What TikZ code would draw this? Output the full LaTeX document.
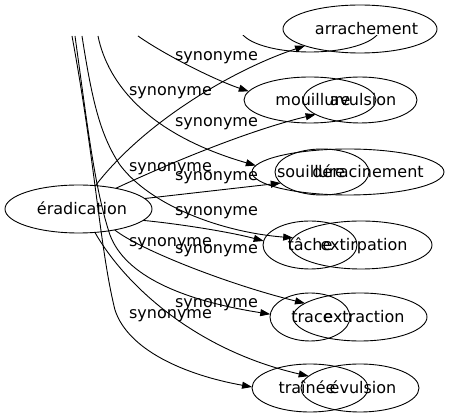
\documentclass[tikz,border=0pt]{standalone}
\usepackage{fontspec}
\setmainfont{DejaVu Sans}
\usetikzlibrary{arrows.meta,shapes.geometric}
\begin{document}
\begin{tikzpicture}[x=1pt,y=-1pt,
  every node/.style={font=\fontsize{16}{19}\selectfont},
  wordnode/.style={draw, ellipse, inner sep=0pt, outer sep=0pt, line width=0.9pt},
  wordtext/.style={anchor=base, inner sep=0pt},
  synlabel/.style={anchor=base, inner sep=0pt},
  synedge/.style={draw, line width=0.9pt, -{Triangle[length=10pt,width=7pt]}}
]
\useasboundingbox (0,0) rectangle (451,419);

% ellipses
\node[wordnode, minimum width=147pt, minimum height=48pt] (eradication) at (78.5,209) {};
\node[wordnode, minimum width=154pt, minimum height=48pt] (arrachement) at (360,29) {};
\node[wordnode, minimum width=132pt, minimum height=46pt] (mouillure) at (310,100) {};
\node[wordnode, minimum width=114pt, minimum height=46pt] (avulsion) at (360,100) {};
\node[wordnode, minimum width=94pt, minimum height=46pt] (souillure) at (322,172) {};
\node[wordnode, minimum width=192pt, minimum height=46pt] (deracinement) at (348,172) {};
\node[wordnode, minimum width=94pt, minimum height=48pt] (tache) at (310,245) {};
\node[wordnode, minimum width=142pt, minimum height=48pt] (extirpation) at (361,245) {};
\node[wordnode, minimum width=80pt, minimum height=48pt] (trace) at (310,317) {};
\node[wordnode, minimum width=134pt, minimum height=48pt] (extraction) at (360,317) {};
\node[wordnode, minimum width=116pt, minimum height=48pt] (trainee) at (310,388) {};
\node[wordnode, minimum width=118pt, minimum height=48pt] (evulsion) at (360,388) {};
\begin{scope}
  \clip (0,36) rectangle (451,419);
  \node[wordnode, minimum width=140pt, minimum height=48pt] (hidden) at (310,28) {};
\end{scope}

% node texts
\node[wordtext] (t-eradication) at (82,214.5) {éradication};
\node[wordtext] (t-arrachement) at (366.5,34.5) {arrachement};
\node[wordtext] (t-mouillure) at (313,105.5) {mouillure};
\node[wordtext] (t-avulsion) at (363,105.5) {avulsion};
\node[wordtext] (t-souillure) at (311,177.5) {souillure};
\node[wordtext] (t-deracinement) at (368,177.5) {déracinement};
\node[wordtext] (t-tache) at (310,250.5) {tâche};
\node[wordtext] (t-extirpation) at (364,250.5) {extirpation};
\node[wordtext] (t-trace) at (312,322.5) {trace};
\node[wordtext] (t-extraction) at (364,322.5) {extraction};
\node[wordtext] (t-trainee) at (307,393.5) {traînée};
\node[wordtext] (t-evulsion) at (363,393.5) {évulsion};

% free ends at the top
\coordinate (top1) at (72,36);
\coordinate (top2) at (75,36);
\coordinate (top3) at (82,36);
\coordinate (top4) at (98,36);
\coordinate (top5) at (138,36);

% edges
\draw[synedge] (eradication.54) .. controls (145,121) and (235,69) .. (arrachement.197);
\draw[synedge] (top5) .. controls (165,55) and (215,80) .. (mouillure.172);
\draw[synedge] (eradication.29) .. controls (170,163) and (250,130) .. (avulsion.198);
\draw[synedge] (top4) .. controls (108,85) and (150,135) .. (deracinement.176);
\draw[synedge] (eradication.9) -- (souillure.195);
\draw[synedge] (top3) .. controls (92,100) and (100,135) .. (120,165) .. controls (150,205) and (220,232) .. (extirpation.174);
\draw[synedge] (eradication.350) .. controls (180,224) and (230,232) .. (tache.175);
\draw[synedge] (top1) .. controls (95,160) and (100,250) .. (115,310) .. controls (128,350) and (185,375) .. (trainee.179);
\draw[synedge] (eradication.305) .. controls (125,285) and (195,350) .. (evulsion.167);
\draw[synedge] (eradication.330) .. controls (140,250) and (230,285) .. (extraction.166);
\draw[synedge] (top2) .. controls (88,130) and (95,190) .. (110,235) .. controls (125,275) and (180,300) .. (trace.176);

% edge labels
\node[synlabel] (l1) at (216.5,60.5) {synonyme};
\node[synlabel] (l2) at (170.5,96) {synonyme};
\node[synlabel] (l3) at (216.5,127) {synonyme};
\node[synlabel] (l4) at (170.5,172) {synonyme};
\node[synlabel] (l5) at (216.5,180.5) {synonyme};
\node[synlabel] (l6) at (216.5,216) {synonyme};
\node[synlabel] (l7) at (170.5,247) {synonyme};
\node[synlabel] (l8) at (216.5,254) {synonyme};
\node[synlabel] (l9) at (216.5,308) {synonyme};
\node[synlabel] (l10) at (170.5,319) {synonyme};
\end{tikzpicture}
\end{document}
